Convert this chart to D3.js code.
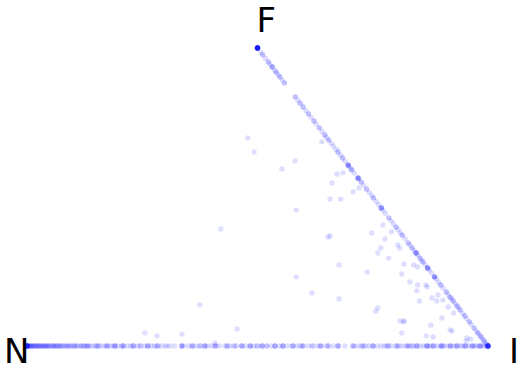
<!DOCTYPE html>
<html>
<head>
<meta charset="utf-8">
<script src="https://cdn.jsdelivr.net/npm/d3@7"></script>
<style>
  html, body { margin: 0; padding: 0; background: #fff; }
  svg { display: block; }
</style>
</head>
<body>
<div id="chart"></div>
<script>
// vertex labels
const cornerLabels = ["N", "I", "F"];

// points on the N-I edge (F = 0), I share
const bottomI = [
  0, 0, 0, 0, 0, 0, 0, 0, 0, 0, 0.001, 0.003, 0.004, 0.006, 0.008, 0.01, 0.012, 0.013, 0.016,
  0.018, 0.02, 0.022, 0.024, 0.026, 0.029, 0.03, 0.033, 0.035, 0.037, 0.04, 0.042, 0.044, 0.047,
  0.049, 0.052, 0.055, 0.057, 0.06, 0.063, 0.065, 0.067, 0.071, 0.074, 0.076, 0.08, 0.082,
  0.085, 0.09, 0.093, 0.095, 0.1, 0.104, 0.107, 0.11, 0.115, 0.118, 0.12, 0.126, 0.13, 0.137,
  0.142, 0.148, 0.155, 0.16, 0.167, 0.172, 0.18, 0.186, 0.19, 0.197, 0.205, 0.21, 0.218, 0.225,
  0.232, 0.24, 0.247, 0.255, 0.262, 0.27, 0.276, 0.285, 0.292, 0.3, 0.31, 0.32, 0.335, 0.34,
  0.35, 0.36, 0.368, 0.376, 0.385, 0.392, 0.4, 0.41, 0.418, 0.43, 0.44, 0.448, 0.455, 0.466,
  0.475, 0.485, 0.492, 0.5, 0.51, 0.52, 0.53, 0.538, 0.548, 0.556, 0.565, 0.575, 0.585, 0.592,
  0.6, 0.61, 0.62, 0.63, 0.64, 0.65, 0.655, 0.665, 0.675, 0.69, 0.71, 0.718, 0.725, 0.735,
  0.742, 0.75, 0.76, 0.768, 0.775, 0.785, 0.79, 0.8, 0.808, 0.815, 0.822, 0.83, 0.835, 0.838,
  0.845, 0.853, 0.86, 0.866, 0.87, 0.875, 0.882, 0.89, 0.896, 0.9, 0.905, 0.912, 0.92, 0.926,
  0.932, 0.94, 0.945, 0.952, 0.958, 0.964, 0.97, 0.975, 0.98, 0.985, 0.99, 0.995, 1, 1, 1, 1,
  1, 1, 1, 1,
  // darker clusters along the edge
  0.132, 0.132, 0.152, 0.152, 0.174, 0.174, 0.191, 0.191, 0.208, 0.208, 0.23, 0.23, 0.245,
  0.262, 0.262, 0.282, 0.282, 0.304, 0.336, 0.336, 0.358, 0.358, 0.375, 0.386, 0.386, 0.408,
  0.408, 0.434, 0.434, 0.451, 0.466, 0.466, 0.484, 0.484, 0.499, 0.51, 0.51, 0.521, 0.538,
  0.538, 0.555, 0.555, 0.577, 0.577, 0.597, 0.597, 0.618, 0.636, 0.636, 0.653, 0.675, 0.675,
  0.707, 0.707, 0.729, 0.729, 0.751, 0.751, 0.781, 0.781, 0.803, 0.803, 0.826, 0.826, 0.846,
  0.846, 0.868, 0.868, 0.881, 0.881, 0.9, 0.9, 0.918, 0.918, 0.933, 0.933, 0.95, 0.95, 0.967,
  0.967, 0.983, 0.983, 0.008, 0.015, 0.025, 0.036, 0.045, 0.058, 0.07, 0.088, 0.102, 0.124
];

// points on the F-I edge (N = 0), F share
const edgeF = [
  1, 1, 1, 1, 1, 1, 1, 1, 1, 1, 1, 1, 1, 1, 1, 1, 0.985, 0.977, 0.965, 0.953, 0.945, 0.936,
  0.925, 0.919, 0.91, 0.903, 0.893, 0.883, 0.836, 0.825, 0.815, 0.802, 0.79, 0.779, 0.768,
  0.755, 0.745, 0.732, 0.72, 0.708, 0.7, 0.691, 0.68, 0.671, 0.66, 0.651, 0.64, 0.631, 0.62,
  0.607, 0.607, 0.603, 0.595, 0.591, 0.58, 0.564, 0.564, 0.56, 0.55, 0.54, 0.527, 0.515, 0.505,
  0.497, 0.485, 0.475, 0.463, 0.463, 0.455, 0.445, 0.43, 0.42, 0.41, 0.399, 0.39, 0.38, 0.372,
  0.36, 0.346, 0.338, 0.329, 0.32, 0.312, 0.312, 0.305, 0.295, 0.288, 0.282, 0.272, 0.262,
  0.262, 0.255, 0.245, 0.232, 0.232, 0.225, 0.215, 0.205, 0.195, 0.181, 0.172, 0.164, 0.158,
  0.151, 0.142, 0.134, 0.128, 0.121, 0.11, 0.101, 0.092, 0.081, 0.072, 0.06, 0.05, 0.044,
  0.036, 0.03, 0.022, 0.017, 0.01, 0.005, 0, 0, 0,
  // darker clusters along the edge
  0.977, 0.953, 0.936, 0.936, 0.919, 0.903, 0.883, 0.836, 0.815, 0.802, 0.779, 0.755, 0.732,
  0.708, 0.691, 0.651, 0.631, 0.607, 0.607, 0.591, 0.564, 0.564, 0.55, 0.527, 0.497, 0.463,
  0.463, 0.43, 0.399, 0.372, 0.346, 0.329, 0.312, 0.312, 0.295, 0.282, 0.262, 0.262, 0.232,
  0.232, 0.205, 0.181, 0.164, 0.151, 0.134, 0.121, 0.101, 0.081, 0.06, 0.044, 0.03, 0.017
];

// interior points: I share and F share
const innerI = [
  0.130, 0.167, 0.271, 0.256, 0.297, 0.384, 0.395, 0.388, 0.449, 0.455, 0.411, 0.434, 0.356,
  0.224, 0.473, 0.470, 0.468, 0.529, 0.306, 0.427, 0.234, 0.265, 0.316, 0.403, 0.767, 0.776,
  0.841, 0.791, 0.849, 0.866, 0.897, 0.944, 0.951, 0.558, 0.599, 0.597, 0.603, 0.605, 0.635,
  0.644, 0.637, 0.541, 0.614, 0.680, 0.692, 0.703, 0.715, 0.723, 0.745, 0.763, 0.753, 0.769,
  0.806, 0.798, 0.813, 0.825, 0.776, 0.598, 0.697, 0.698, 0.848, 0.870, 0.853, 0.891, 0.941,
  0.569, 0.776
];
const innerF = [
  0.698, 0.651, 0.621, 0.594, 0.685, 0.577, 0.581, 0.547, 0.517, 0.530, 0.493, 0.493, 0.456,
  0.393, 0.369, 0.366, 0.232, 0.178, 0.138, 0.057, 0.044, 0.034, 0.040, 0.010, 0.084, 0.084,
  0.070, 0.044, 0.034, 0.030, 0.050, 0.017, 0.023, 0.379, 0.383, 0.359, 0.329, 0.312, 0.339,
  0.329, 0.295, 0.272, 0.248, 0.275, 0.242, 0.272, 0.265, 0.215, 0.205, 0.205, 0.185, 0.198,
  0.171, 0.161, 0.151, 0.154, 0.151, 0.158, 0.128, 0.117, 0.131, 0.111, 0.094, 0.054, 0.027,
  0.406, 0.081
];

const W = 520, H = 366;

const svg = d3.select("#chart")
    .append("svg")
    .attr("width", W)
    .attr("height", H)
    .style("background", "#fff");

// ternary -> cartesian: horizontal = I + F/2, vertical = F
const x = d3.scaleLinear().domain([0, 1]).range([27, 488]);
const y = d3.scaleLinear().domain([0, 1]).range([346, 48]);

const pts = [];
bottomI.forEach(v => pts.push({ i: v, f: 0 }));
edgeF.forEach(v => pts.push({ i: 1 - v, f: v }));
innerI.forEach((v, k) => pts.push({ i: v, f: innerF[k] }));

svg.append("g")
    .selectAll("circle")
    .data(pts)
    .enter()
    .append("circle")
    .attr("cx", d => x(d.i + d.f / 2))
    .attr("cy", d => y(d.f))
    .attr("r", 2.7)
    .style("fill", "#0000ff")
    .style("fill-opacity", 0.13);

// corner labels
const corners = [
    { name: cornerLabels[0], i: 0, f: 0, dx: -23, dy: 17 },
    { name: cornerLabels[1], i: 1, f: 0, dx: 21, dy: 17 },
    { name: cornerLabels[2], i: 0, f: 1, dx: -1, dy: -16 }
];

svg.selectAll("text.corner")
    .data(corners)
    .enter()
    .append("text")
    .attr("class", "corner")
    .attr("x", d => x(d.i + d.f / 2) + d.dx)
    .attr("y", d => y(d.f) + d.dy)
    .style("font-family", "DejaVu Sans")
    .style("font-size", "34px")
    .style("fill", "#000")
    .text(d => d.name);
</script>
</body>
</html>
